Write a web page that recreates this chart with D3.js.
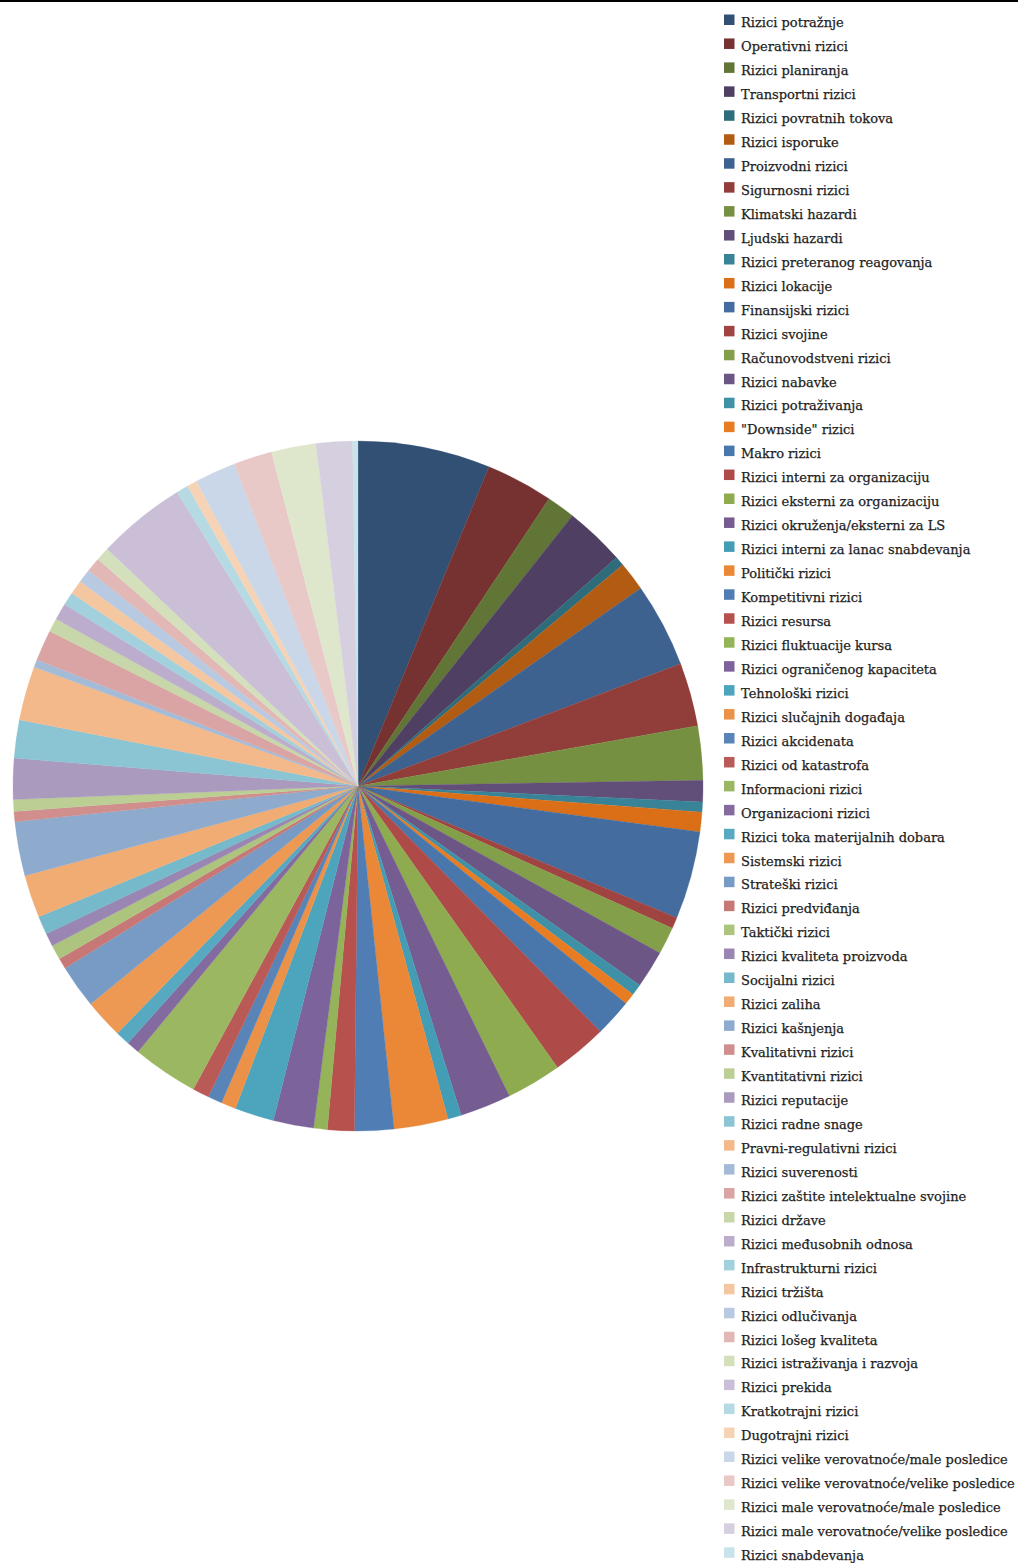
<!DOCTYPE html>
<html>
<head>
<meta charset="utf-8">
<script src="https://cdn.jsdelivr.net/npm/d3@7"></script>
<style>
  body { margin: 0; background: #fff; }
  .legend text {
    font-family: 'DejaVu Serif', serif;
    font-size: 13px;
    fill: #222;
    stroke: #222;
    stroke-width: 0.25px;
  }
</style>
</head>
<body>
<div id="chart"></div>
<script>
// legend labels, in series order (clockwise from 12 o'clock)
const categories = [
  'Rizici potražnje', 'Operativni rizici', 'Rizici planiranja', 'Transportni rizici',
  'Rizici povratnih tokova', 'Rizici isporuke', 'Proizvodni rizici', 'Sigurnosni rizici',
  'Klimatski hazardi', 'Ljudski hazardi', 'Rizici preteranog reagovanja', 'Rizici lokacije',
  'Finansijski rizici', 'Rizici svojine', 'Računovodstveni rizici', 'Rizici nabavke',
  'Rizici potraživanja', '"Downside" rizici', 'Makro rizici', 'Rizici interni za organizaciju',
  'Rizici eksterni za organizaciju', 'Rizici okruženja/eksterni za LS',
  'Rizici interni za lanac snabdevanja', 'Politički rizici', 'Kompetitivni rizici',
  'Rizici resursa', 'Rizici fluktuacije kursa', 'Rizici ograničenog kapaciteta',
  'Tehnološki rizici', 'Rizici slučajnih događaja', 'Rizici akcidenata', 'Rizici od katastrofa',
  'Informacioni rizici', 'Organizacioni rizici', 'Rizici toka materijalnih dobara',
  'Sistemski rizici', 'Strateški rizici', 'Rizici predviđanja', 'Taktički rizici',
  'Rizici kvaliteta proizvoda', 'Socijalni rizici', 'Rizici zaliha', 'Rizici kašnjenja',
  'Kvalitativni rizici', 'Kvantitativni rizici', 'Rizici reputacije', 'Rizici radne snage',
  'Pravni-regulativni rizici', 'Rizici suverenosti', 'Rizici zaštite intelektualne svojine',
  'Rizici države', 'Rizici međusobnih odnosa', 'Infrastrukturni rizici', 'Rizici tržišta',
  'Rizici odlučivanja', 'Rizici lošeg kvaliteta', 'Rizici istraživanja i razvoja',
  'Rizici prekida', 'Kratkotrajni rizici', 'Dugotrajni rizici',
  'Rizici velike verovatnoće/male posledice', 'Rizici velike verovatnoće/velike posledice',
  'Rizici male verovatnoće/male posledice', 'Rizici male verovatnoće/velike posledice',
  'Rizici snabdevanja'
]

// slice sizes (relative shares)
const values = [
  22.3, 11.3, 4.8, 10.1, 1.6, 4.9,
  14.2, 10.7, 9.1, 3.6, 1.7, 3.3,
  14.8, 1.9, 4.6, 6.3, 1.9, 1.9,
  6.3, 9.3, 9.3, 8.6, 2.3, 9.1,
  6.6, 4.5, 2.3, 6.8, 6.6, 2.5,
  2.4, 2.8, 11.1, 2.2, 2.4, 6.6,
  7.3, 1.8, 2.5, 2.2, 3.1, 7.2,
  9.1, 1.7, 2.0, 6.9, 6.4, 9.1,
  1.3, 5.2, 2.3, 2.8, 2.2, 2.4,
  2.3, 2.4, 2.3, 15.0, 2.0, 1.7,
  6.9, 6.5, 7.5, 6.1, 0.9
]

// office accent colours, and the darken/lighten step for each round of six
const accents = ['#4F81BD', '#C0504D', '#9BBB59', '#8064A2', '#4BACC6', '#F79646']
const shades = [-0.38, -0.24, -0.16, -0.09, -0.03, 0.02, 0.2, 0.33, 0.46, 0.58, 0.68]

function pie () {
  let svg
  const width = 1018
  const height = 1563
  const center = { x: 358, y: 786 }
  const radius = 345
  const saturation = 0.88
  const legend = { x: 724, y: 14.5, step: 23.95, box: 10.5, textX: 741, textDy: 12.8 }

  function exports (_selection) {
    _selection.each(function (_data) {
      buildSVG(this)
      drawRule()
      drawSlices(_data)
      drawLegend(_data)
    })
  }

  function colorFor (i) {
    const c = d3.hsl(accents[i % accents.length])
    const f = shades[Math.floor(i / accents.length)]
    c.l = f < 0 ? c.l * (1 + f) : c.l + (1 - c.l) * f
    c.s = c.s * saturation
    return c.formatHex()
  }

  function buildSVG (container) {
    svg = d3.select(container)
      .append('svg')
      .attr('width', width)
      .attr('height', height)
  }

  function drawRule () {
    svg.append('line')
      .attr('x1', 0).attr('x2', width)
      .attr('y1', 1).attr('y2', 1)
      .style('stroke', '#000')
      .style('stroke-width', 2)
  }

  function drawSlices (data) {
    const arcs = d3.pie()
      .sort(null)
      .value((d) => d.value)(data)

    const arc = d3.arc()
      .innerRadius(0)
      .outerRadius(radius)

    svg.append('g')
      .attr('class', 'slices')
      .attr('transform', `translate(${center.x},${center.y})`)
      .selectAll('path')
      .data(arcs)
      .enter()
      .append('path')
      .attr('d', arc)
      .style('fill', (d) => colorFor(d.index))
      .style('stroke', (d) => colorFor(d.index))
      .style('stroke-width', 0.3)
  }

  function drawLegend (data) {
    const y = d3.scaleLinear()
      .domain([0, 1])
      .range([legend.y, legend.y + legend.step])

    const rows = svg.append('g')
      .attr('class', 'legend')
      .selectAll('g')
      .data(data)
      .enter()
      .append('g')
      .attr('transform', (d, i) => `translate(0,${y(i)})`)

    rows.append('rect')
      .attr('x', legend.x)
      .attr('width', legend.box)
      .attr('height', legend.box)
      .style('fill', (d, i) => colorFor(i))

    rows.append('text')
      .attr('x', legend.textX)
      .attr('y', legend.textDy)
      .text((d) => d.label)
  }

  return exports
}

const data = categories.map((label, i) => ({ label: label, value: values[i] }))

d3.select('#chart')
  .datum(data)
  .call(pie())
</script>
</body>
</html>
